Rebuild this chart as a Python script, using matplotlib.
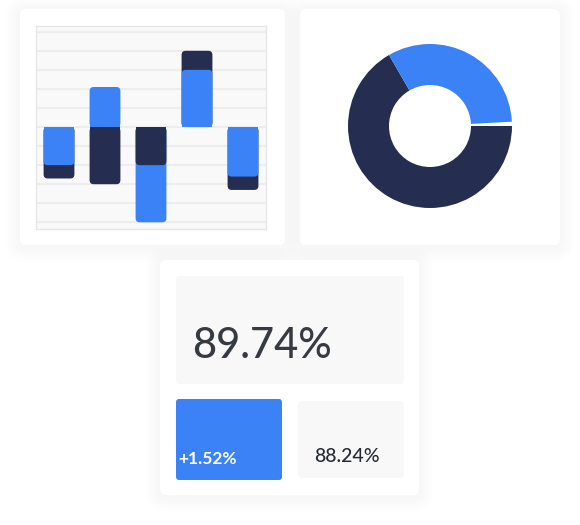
import matplotlib
matplotlib.use("Agg")
import matplotlib.pyplot as plt
from matplotlib.patches import FancyBboxPatch, BoxStyle

# ---- data ----
bar_index = [0, 1, 2, 3, 4]
blue_vals = [-40, 42, -100, 60, -52]
dark_vals = [-54, -60, -40, 80, -66]

donut_vals = [66.7, 0.8, 32.5]   # dark, gap, blue

kpi_main = "89.74%"
kpi_delta = "+1.52%"
kpi_prev = "88.24%"

# ---- style ----
BLUE = "#3b82f6"
DARK = "#252d50"
W, H = 580, 525

fig = plt.figure(figsize=(W / 100, H / 100), dpi=100, facecolor="white")


def px_axes(x, y, w, h):
    return fig.add_axes([x / W, 1 - (y + h) / H, w / W, h / H])


# background layer for cards
bg = fig.add_axes([0, 0, 1, 1])
bg.set_xlim(0, W)
bg.set_ylim(H, 0)
bg.axis("off")


def card(x, y, w, h, fc="white", r=6, shadow=True):
    if shadow:
        for k in range(8, 0, -1):
            s = k * 1.8
            bg.add_patch(FancyBboxPatch((x - s, y - s + 2), w + 2 * s, h + 2 * s,
                                        boxstyle=f"round,pad=0,rounding_size={r + s}",
                                        fc="#1f2937", ec="none", alpha=0.0035))
    bg.add_patch(FancyBboxPatch((x, y), w, h, boxstyle=f"round,pad=0,rounding_size={r}",
                                fc=fc, ec="none"))


card(20, 9, 265, 236)
card(300, 9, 260, 236)
card(160, 260, 259, 235)

# bottom KPI boxes
card(176, 276, 228, 108, fc="#f8f8f8", r=4, shadow=False)
card(176, 399, 106, 81, fc=BLUE, r=3, shadow=False)
card(298, 401, 106, 77, fc="#f8f8f8", r=4, shadow=False)

bg.text(192, 346, kpi_main, fontsize=30, family="Lato", weight="medium", color="#363b41",
        ha="left", va="center")
bg.text(178, 459, kpi_delta, fontsize=12.5, family="Lato", weight="bold",
        color="white", ha="left", va="center")
bg.text(314, 456, kpi_prev, fontsize=14, family="Lato", weight="medium", color="#262b33",
        ha="left", va="center")

# ---- bar chart ----
ax = px_axes(36, 26, 230, 203)
ax.set_facecolor("#f9f9f9")
ax.set_xlim(-0.5, 4.5)
ax.set_ylim(-107, 106)
ax.set_yticks(range(-100, 101, 20))
ax.set_xticks([])
ax.yaxis.grid(True, color="#ededed", lw=1.5)
ax.set_axisbelow(True)
ax.tick_params(left=False, labelleft=False)
for sp in ax.spines.values():
    sp.set_color("#e6e6e6")
    sp.set_linewidth(1)

bw = 0.67
rr = 0.09
ma = (213 / 203) / (5 / 230)


def round_bar(xc, v, color, z):
    ax.bar(xc, v / 2, width=bw, color=color, zorder=z)
    ax.add_patch(FancyBboxPatch((xc - bw / 2, min(0, v)), bw, abs(v),
                                boxstyle=BoxStyle.Round(pad=0, rounding_size=rr),
                                mutation_aspect=ma, fc=color, ec="none", zorder=z))


for i in bar_index:
    pair = [(blue_vals[i], BLUE), (dark_vals[i], DARK)]
    pair.sort(key=lambda p: -abs(p[0]))
    for z, (v, c) in enumerate(pair):
        round_bar(i, v, c, 2 + z)

# ---- donut ----
ax2 = px_axes(348, 44, 164, 164)
ax2.pie(donut_vals, colors=[DARK, "white", BLUE], startangle=120, counterclock=True,
        radius=1, wedgeprops=dict(width=0.5, edgecolor="none"))
ax2.set_xlim(-1, 1)
ax2.set_ylim(-1, 1)
ax2.axis("off")

fig.savefig("out.png", dpi=100, facecolor="white")
